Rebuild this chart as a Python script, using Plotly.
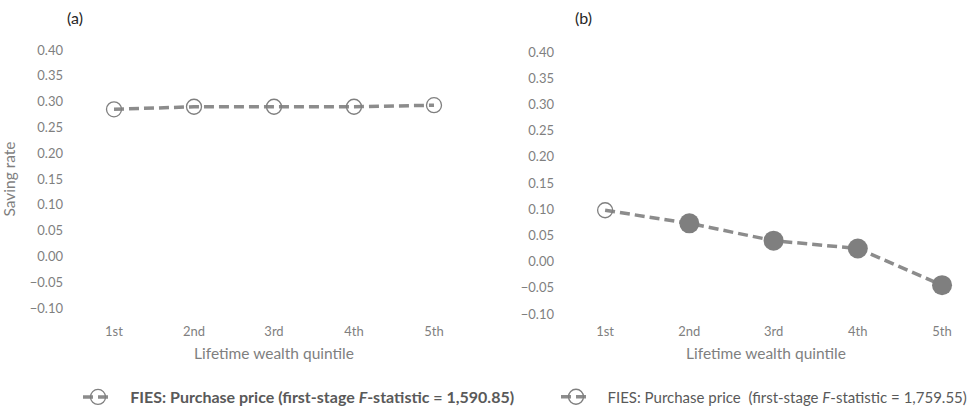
import plotly.graph_objects as go

quintiles = ["1st", "2nd", "3rd", "4th", "5th"]
saving_a = [0.285, 0.290, 0.290, 0.290, 0.293]
saving_b = [0.098, 0.073, 0.040, 0.025, -0.045]
filled_b = [False, True, True, True, True]
yticks = [0.40, 0.35, 0.30, 0.25, 0.20, 0.15, 0.10, 0.05, 0.00, -0.05, -0.10]
ytick_text = ["0.40", "0.35", "0.30", "0.25", "0.20", "0.15", "0.10", "0.05", "0.00", "\u22120.05", "\u22120.10"]
legend_a = "<b>FIES: Purchase price (first-stage <i>F</i>-statistic = 1,590.85)</b>"
legend_b = "FIES: Purchase price  (first-stage <i>F</i>-statistic = 1,759.55)"

W, H = 969, 408
FONT = "Lato"
LINE_C = "#8c8c8c"
MARK_C = "#7f7f7f"
TXT_C = "#7f7f7f"
NB = "\u00a0"

fig = go.Figure()

line_style = dict(color=LINE_C, width=3.5, dash="10px,5px")
open_marker = dict(symbol="circle-open", size=15, color=MARK_C, line=dict(width=1.3, color=MARK_C))

fig.add_trace(go.Scatter(x=quintiles, y=saving_a, mode="lines+markers", line=line_style,
                         marker=open_marker, name=NB * 3 + legend_a, xaxis="x", yaxis="y", legend="legend"))
fig.add_trace(go.Scatter(x=quintiles, y=saving_b, mode="lines+markers", line=line_style,
                         marker=open_marker, name=NB * 3 + legend_b, xaxis="x2", yaxis="y2", legend="legend2"))
fx = [q for q, f in zip(quintiles, filled_b) if f]
fy = [v for v, f in zip(saving_b, filled_b) if f]
fig.add_trace(go.Scatter(x=fx, y=fy, mode="markers", marker=dict(symbol="circle", size=20, color=MARK_C),
                         showlegend=False, xaxis="x2", yaxis="y2", hoverinfo="skip"))

def px(x):
    return x / W

def py(y):
    return 1 - y / H

tickfont = dict(family=FONT, size=13, color=TXT_C)
titlefont = dict(family=FONT, size=15.5, color=TXT_C)

common_x = dict(type="category", showgrid=False, zeroline=False, showline=False, ticks="",
                automargin=False, tickfont=tickfont, title_font=titlefont,
                title_text="Lifetime wealth quintile")
common_y = dict(range=[-0.10, 0.40], tickvals=yticks, ticktext=ytick_text, showgrid=False,
                automargin=False, zeroline=False, showline=False, ticks="", tickfont=tickfont)

fig.update_layout(
    width=W, height=H,
    margin=dict(l=0, r=0, t=0, b=0, autoexpand=False),
    paper_bgcolor="white", plot_bgcolor="white",
    font=dict(family=FONT),
    xaxis=dict(domain=[px(74), px(474)], range=[-0.5, 4.5], anchor="y", ticklabelstandoff=14,
               title_standoff=10, **common_x),
    yaxis=dict(domain=[py(308), py(50)], anchor="x", ticklabelstandoff=10,
               title_text="Saving rate", title_font=titlefont, title_standoff=12, **common_y),
    xaxis2=dict(domain=[px(563), px(969)], range=[-0.5, 4.32], anchor="y2", ticklabelstandoff=8,
                title_standoff=10, **common_x),
    yaxis2=dict(domain=[py(314), py(52)], anchor="x2", ticklabelstandoff=8, **common_y),
    legend=dict(x=px(78), y=py(397), xanchor="left", yanchor="middle", orientation="h",
                font=dict(family=FONT, size=16, color="#595959"), bgcolor="rgba(0,0,0,0)"),
    legend2=dict(x=px(556), y=py(397), xanchor="left", yanchor="middle", orientation="h",
                 font=dict(family=FONT, size=15, color="#595959"), bgcolor="rgba(0,0,0,0)"),
    annotations=[
        dict(text="(a)", x=px(75), y=py(18), xref="paper", yref="paper", showarrow=False,
             xanchor="center", yanchor="middle", font=dict(family=FONT, size=16, color="#262626")),
        dict(text="(b)", x=px(583), y=py(18), xref="paper", yref="paper", showarrow=False,
             xanchor="center", yanchor="middle", font=dict(family=FONT, size=16, color="#262626")),
    ],
)

fig.write_html("out.html")
